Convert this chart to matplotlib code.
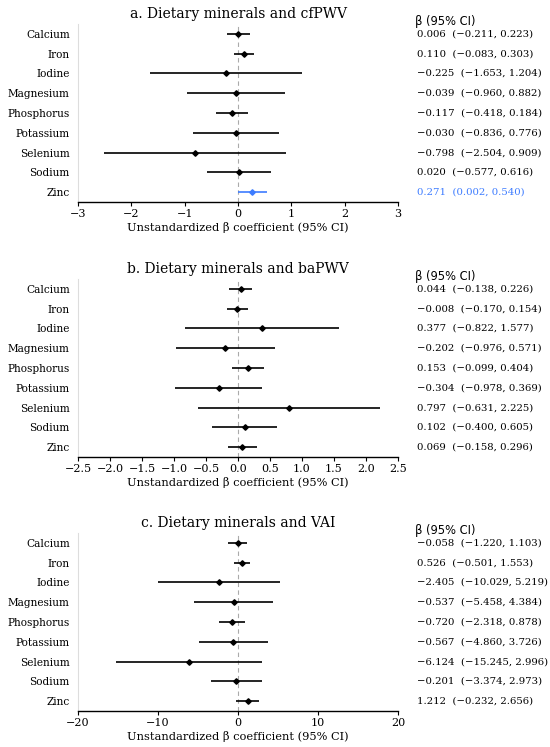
import matplotlib
matplotlib.use("Agg")
import matplotlib.pyplot as plt
import matplotlib.transforms as mtransforms

plt.rcParams['font.family'] = ['DejaVu Serif']

minerals = ['Calcium', 'Iron', 'Iodine', 'Magnesium', 'Phosphorus',
            'Potassium', 'Selenium', 'Sodium', 'Zinc']

# a. cfPWV
cf_beta = [0.006, 0.110, -0.225, -0.039, -0.117, -0.030, -0.798, 0.020, 0.271]
cf_low = [-0.211, -0.083, -1.653, -0.960, -0.418, -0.836, -2.504, -0.577, 0.002]
cf_high = [0.223, 0.303, 1.204, 0.882, 0.184, 0.776, 0.909, 0.616, 0.540]

# b. baPWV
ba_beta = [0.044, -0.008, 0.377, -0.202, 0.153, -0.304, 0.797, 0.102, 0.069]
ba_low = [-0.138, -0.170, -0.822, -0.976, -0.099, -0.978, -0.631, -0.400, -0.158]
ba_high = [0.226, 0.154, 1.577, 0.571, 0.404, 0.369, 2.225, 0.605, 0.296]

# c. VAI
vai_beta = [-0.058, 0.526, -2.405, -0.537, -0.720, -0.567, -6.124, -0.201, 1.212]
vai_low = [-1.220, -0.501, -10.029, -5.458, -2.318, -4.860, -15.245, -3.374, -0.232]
vai_high = [1.103, 1.553, 5.219, 4.384, 0.878, 3.726, 2.996, 2.973, 2.656]

panels = [
    ('a. Dietary minerals and cfPWV', cf_beta, cf_low, cf_high, (-3, 3), [-3, -2, -1, 0, 1, 2, 3], '{:g}'),
    ('b. Dietary minerals and baPWV', ba_beta, ba_low, ba_high, (-2.5, 2.5),
     [-2.5, -2.0, -1.5, -1.0, -0.5, 0.0, 0.5, 1.0, 1.5, 2.0, 2.5], '{:.1f}'),
    ('c. Dietary minerals and VAI', vai_beta, vai_low, vai_high, (-20, 20), [-20, -10, 0, 10, 20], '{:g}'),
]

W, H = 550, 747
fig = plt.figure(figsize=(5.5, 7.47), dpi=100)

# bottom spine pixel positions (from top) for each panel
bottoms = [202, 457, 711]
ax_h = 178
ax_left, ax_w = 78, 320
blue = '#3d7cff'

for (title, beta, low, high, xlim, ticks, fmt), bot in zip(panels, bottoms):
    ax = fig.add_axes([ax_left / W, 1 - bot / H, ax_w / W, ax_h / H])
    y = list(range(len(minerals)))
    for i in y:
        sig = low[i] > 0 or high[i] < 0
        c = blue if sig else 'black'
        ax.plot([low[i], high[i]], [i, i], color=c, lw=1.2, solid_capstyle='butt')
        ax.plot(beta[i], i, marker='D', ms=2.8, color=c)
    ax.axvline(0, color='#aaaaaa', lw=0.8, ls=(0, (4, 3)), zorder=0)
    ax.set_ylim(len(minerals) - 0.5, -0.5)
    ax.set_xlim(*xlim)
    ax.set_yticks(y)
    ax.set_yticklabels(minerals, fontsize=7.6)
    ax.set_xticks(ticks)
    ax.set_xticklabels([fmt.format(t).replace('-', '\u2212') for t in ticks], fontsize=8)
    ax.tick_params(axis='y', length=0, pad=6)
    ax.tick_params(axis='x', length=3, width=0.8, pad=2)
    ax.spines['top'].set_visible(False)
    ax.spines['right'].set_visible(False)
    ax.spines['left'].set_color('#dddddd')
    ax.spines['left'].set_linewidth(0.8)
    ax.spines['bottom'].set_linewidth(1.0)
    ax.set_xlabel('Unstandardized \u03b2 coefficient (95% CI)', fontsize=8.2, labelpad=2)
    ax.set_title(title, fontsize=10, pad=4)

    trans = mtransforms.blended_transform_factory(ax.transAxes, ax.transData)
    ax.text(1.053, -0.65, '\u03b2 (95% CI)', transform=trans, fontsize=8.3,
            va='center', ha='left', family='DejaVu Sans')
    for i in y:
        sig = low[i] > 0 or high[i] < 0
        txt = '{:.3f}  ({:.3f}, {:.3f})'.format(beta[i], low[i], high[i]).replace('-', '\u2212')
        ax.text(1.058, i, txt, transform=trans, fontsize=7.3, va='center', ha='left',
                color=blue if sig else 'black')

fig.savefig('out.png', dpi=100)
